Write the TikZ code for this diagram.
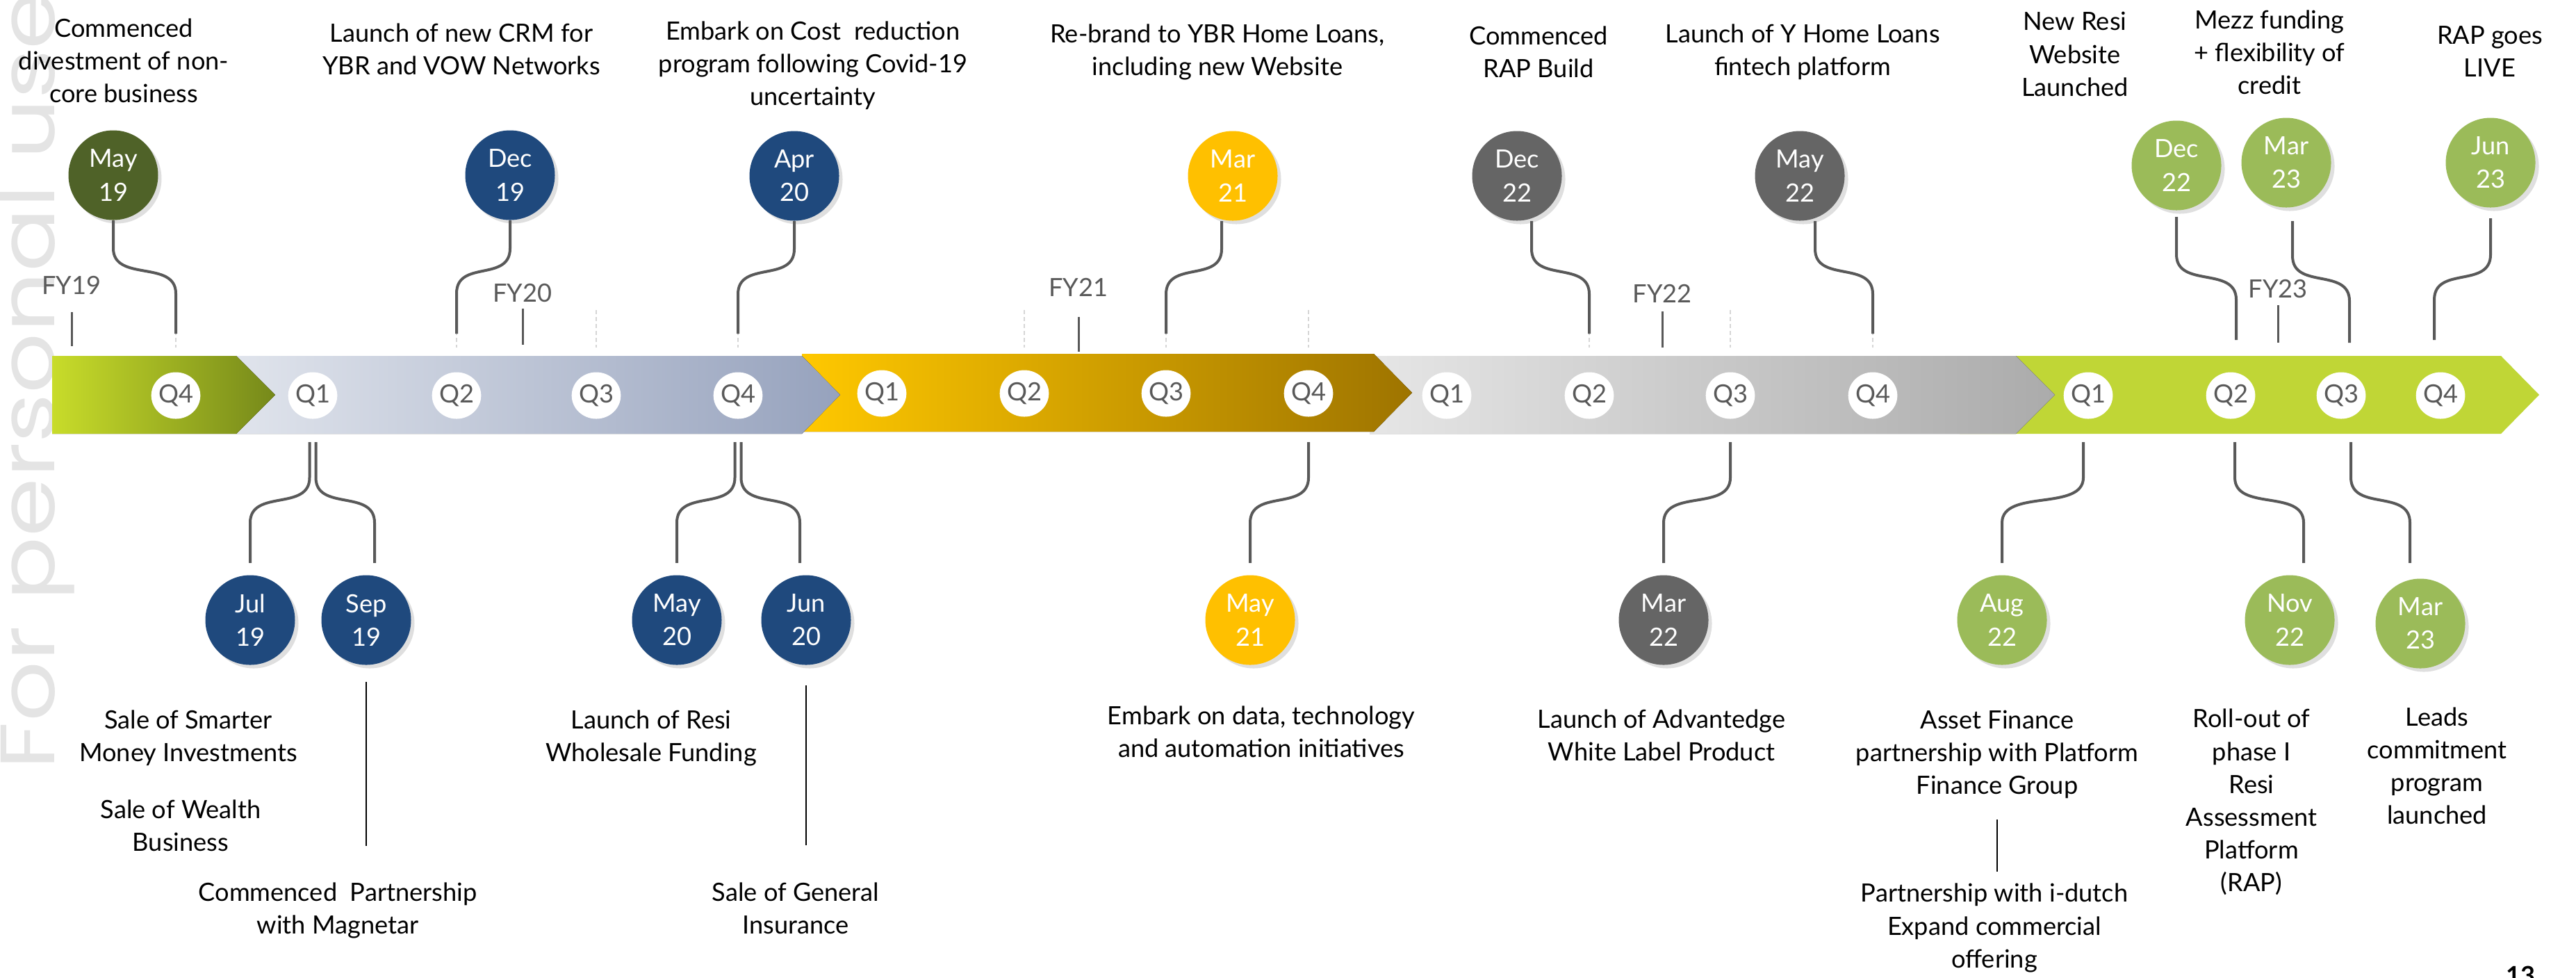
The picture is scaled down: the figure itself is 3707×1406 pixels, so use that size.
\documentclass[tikz,border=0pt]{standalone}
\usepackage{fontspec}
\setmainfont{Lato}
\newfontfamily\wmfont{Poppins}
\usetikzlibrary{calc, positioning, shapes.geometric, shadows}

\definecolor{olivebub}{HTML}{4F6228}
\definecolor{navybub}{HTML}{1F497D}
\definecolor{goldbub}{HTML}{FFC000}
\definecolor{greybub}{HTML}{656565}
\definecolor{greenbub}{HTML}{9BBB59}
\definecolor{lnk}{HTML}{595959}
\definecolor{qtext}{HTML}{595959}
\definecolor{qdash}{HTML}{D6D6D6}
\definecolor{wmark}{HTML}{E4E4E4}
\definecolor{limeA}{HTML}{C8DC2A}
\definecolor{limeB}{HTML}{76891A}
\definecolor{lilacA}{HTML}{E0E4EC}
\definecolor{lilacB}{HTML}{96A2BD}
\definecolor{goldA}{HTML}{FFC800}
\definecolor{goldB}{HTML}{9E7400}
\definecolor{silverA}{HTML}{E6E6E6}
\definecolor{silverB}{HTML}{ABABAB}
\definecolor{leaf}{HTML}{C0D636}

\begin{document}
\begin{tikzpicture}[
        x=0.1mm, y=-0.1mm,
        txt/.style={align=center, inner sep=0pt, text=black,
                    font=\fontsize{10.3pt}{13.4pt}\selectfont},
        bub/.style={circle, minimum size=12.9mm, inner sep=0pt, align=center,
                    text=white, fill=#1, font=\fontsize{10.3pt}{13.7pt}\selectfont,
                    drop shadow={shadow xshift=0.5mm, shadow yshift=-0.5mm, opacity=0.25}},
        qtr/.style={ellipse, fill=white, minimum width=6.4mm, minimum height=6.7mm,
                    inner sep=0pt, text=qtext, font=\fontsize{10.3pt}{12pt}\selectfont},
        fy/.style={inner sep=0pt, text=qtext, font=\fontsize{10.3pt}{12pt}\selectfont},
        tick/.style={draw=lnk, line width=0.3mm},
        qline/.style={draw=qdash, line width=0.2mm, dash pattern=on 0.6mm off 0.4mm},
        note/.style={draw=black, line width=0.15mm},
        conn/.style={draw=lnk, line width=0.4mm, to path={
            let \p1=(\tikztostart), \p2=(\tikztotarget) in
            -- (\x1,\y1-#1) .. controls (\x1,\y1-#1-4.9mm) and (\x2,\y1-#1-1.6mm)
            .. (\x2,\y1-#1-6.5mm) -- (\x2,\y2)}},
        conn/.default=4mm
    ]
    \useasboundingbox (0,0) rectangle (3707,1406);
    \clip (0,0) rectangle (3707,1406);
    \fill[white] (0,0) rectangle (3707,1406);

    % watermark on the left edge
    \node[anchor=base west, rotate=90, inner sep=0pt, text=wmark,
          font=\wmfont\fontsize{31.5pt}{36pt}\selectfont] (wm) at (78,1108)
          {\scalebox{1.23}[1]{For personal use}};

    % timeline band, right to left so each tip lies over the next piece
    \fill[leaf] (2820,512) -- (3599,512) -- (3654,568) -- (3599,624) -- (2820,624) -- cycle;
    \fill[left color=silverA, right color=silverB] (1971,512) -- (2901,512) -- (2957,568) -- (2901,624) -- (1971,624) -- cycle;
    \fill[left color=goldA, right color=goldB] (1154,509) -- (1977,509) -- (2032,565) -- (1977,621) -- (1154,621) -- cycle;
    \fill[left color=lilacA, right color=lilacB] (340,512) -- (1154,512) -- (1209,568) -- (1154,624) -- (340,624) -- cycle;
    \fill[left color=limeA, right color=limeB] (75,512) -- (340,512) -- (396,568) -- (340,624) -- (75,624) -- cycle;

    % quarters
    \node[qtr] (q4a) at (253,569) {Q4};
    \node[qtr] (q1b) at (450,569) {Q1};
    \node[qtr] (q2b) at (657,569) {Q2};
    \node[qtr] (q3b) at (858,569) {Q3};
    \node[qtr] (q4b) at (1062,569) {Q4};
    \node[qtr] (q1c) at (1269,566) {Q1};
    \node[qtr] (q2c) at (1474,566) {Q2};
    \node[qtr] (q3c) at (1678,566) {Q3};
    \node[qtr] (q4c) at (1883,566) {Q4};
    \node[qtr] (q1d) at (2082,569) {Q1};
    \node[qtr] (q2d) at (2287,569) {Q2};
    \node[qtr] (q3d) at (2490,569) {Q3};
    \node[qtr] (q4d) at (2695,569) {Q4};
    \node[qtr] (q1e) at (3005,569) {Q1};
    \node[qtr] (q2e) at (3210,569) {Q2};
    \node[qtr] (q3e) at (3369,569) {Q3};
    \node[qtr] (q4e) at (3512,569) {Q4};

    % faint quarter marks above the band
    \draw[qline] (q4a |- 0,446) -- (q4a |- 0,500);
    \draw[qline] (q2b |- 0,446) -- (q2b |- 0,500);
    \draw[qline] (q3b |- 0,446) -- (q3b |- 0,500);
    \draw[qline] (q4b |- 0,446) -- (q4b |- 0,500);
    \draw[qline] (q2c |- 0,446) -- (q2c |- 0,500);
    \draw[qline] (q3c |- 0,446) -- (q3c |- 0,500);
    \draw[qline] (q4c |- 0,446) -- (q4c |- 0,500);
    \draw[qline] (q2d |- 0,446) -- (q2d |- 0,500);
    \draw[qline] (q3d |- 0,446) -- (q3d |- 0,500);
    \draw[qline] (q4d |- 0,446) -- (q4d |- 0,500);

    % financial years
    \node[fy] (fy19) at (103,410) {FY19};
    \node[fy] (fy20) at (752,421) {FY20};
    \node[fy] (fy21) at (1552,413) {FY21};
    \node[fy] (fy22) at (2392,422) {FY22};
    \node[fy] (fy23) at (3278,416) {FY23};
    \draw[tick] (fy19 |- 0,449) -- (fy19 |- 0,498);
    \draw[tick] (fy20 |- 0,444) -- (fy20 |- 0,496);
    \draw[tick] (fy21 |- 0,456) -- (fy21 |- 0,506);
    \draw[tick] (fy22 |- 0,448) -- (fy22 |- 0,500);
    \draw[tick] (fy23 |- 0,439) -- (fy23 |- 0,493);

    % milestones above the band
    \node[bub=olivebub] (may19) at (163,252) {May\\19};
    \node[bub=navybub] (dec19) at (734,252) {Dec\\19};
    \node[bub=navybub] (apr20) at (1143,253) {Apr\\20};
    \node[bub=goldbub] (mar21) at (1774,253) {Mar\\21};
    \node[bub=greybub] (dec22) at (2183,253) {Dec\\22};
    \node[bub=greybub] (may22) at (2590,253) {May\\22};
    \node[bub=greenbub] (dec22g) at (3132,238) {Dec\\22};
    \node[bub=greenbub] (mar23) at (3290,234) {Mar\\23};
    \node[bub=greenbub] (jun23) at (3584,234) {Jun\\23};

    \draw[conn] (may19.south) to (q4a |- 0,480);
    \draw[conn] (dec19.south) to (q2b |- 0,480);
    \draw[conn] (apr20.south) to (q4b |- 0,480);
    \draw[conn] ([xshift=-1.6mm]mar21.south) to (q3c |- 0,480);
    \draw[conn] ([xshift=2.1mm]dec22.south) to (q2d |- 0,480);
    \draw[conn] ([xshift=2.2mm]may22.south) to (q4d |- 0,480);
    \draw[conn=6.3mm, shorten <=0.9mm] (dec22g.south) to ($(q2e |- 0,489)+(8,0)$);
    \draw[conn=6.9mm, shorten <=1.9mm] ([xshift=0.9mm]mar23.south) to ($(q3e |- 0,493)+(12,0)$);
    \draw[conn=6.7mm, shorten <=1.5mm] (jun23.south) to ($(q4e |- 0,489)+(-9,0)$);

    \node[txt] (divest) at (178,87) {Commenced\\divestment of non-\\core business};
    \node[txt] (crm) at (664,71) {Launch of new CRM for\\YBR and VOW Networks};
    \node[txt] (costcut) at (1170,94) {Embark on Cost~ reduction\\program following Covid-19\\uncertainty};
    \node[txt] (rebrand) at (1752,75) {Re-brand to YBR Home Loans,\\including new Website};
    \node[txt] (rapbuild) at (2214,75) {Commenced\\RAP Build};
    \node[txt] (yhome) at (2594,75) {Launch of Y Home Loans\\fintech platform};
    \node[txt] (resiweb) at (2986,78) {New Resi\\Website\\Launched};
    \node[txt] (mezz) at (3266,75) {Mezz funding\\+ flexibility of\\credit};
    \node[txt] (raplive) at (3583,74) {RAP goes\\LIVE};

    % milestones below the band
    \node[bub=navybub] (jul19) at (360,892) {Jul\\19};
    \node[bub=navybub] (sep19) at (527,892) {Sep\\19};
    \node[bub=navybub] (may20) at (974,892) {May\\20};
    \node[bub=navybub] (jun20) at (1160,892) {Jun\\20};
    \node[bub=goldbub] (may21) at (1799,892) {May\\21};
    \node[bub=greybub] (mar22) at (2394,892) {Mar\\22};
    \node[bub=greenbub] (aug22) at (2881,892) {Aug\\22};
    \node[bub=greenbub] (nov22) at (3295,892) {Nov\\22};
    \node[bub=greenbub] (mar23b) at (3483,897) {Mar\\23};

    \draw[conn=5.1mm, shorten >=1.7mm] ($(q1b |- 0,636)+(-4.5,0)$) to (jul19.north);
    \draw[conn=5.1mm, shorten >=1.7mm] ($(q1b |- 0,636)+(4.5,0)$) to ([xshift=1.2mm]sep19.north);
    \draw[conn=5.1mm, shorten >=1.7mm] ($(q4b |- 0,636)+(-4.5,0)$) to (may20.north);
    \draw[conn=5.1mm, shorten >=1.7mm] ($(q4b |- 0,636)+(4.5,0)$) to ([xshift=-0.9mm]jun20.north);
    \draw[conn=5.1mm, shorten >=1.7mm] (q4c |- 0,636) to (may21.north);
    \draw[conn=5.1mm, shorten >=1.7mm] (q3d |- 0,636) to (mar22.north);
    \draw[conn=5.1mm, shorten >=1.7mm] ($(q1e |- 0,636)+(-7,0)$) to (aug22.north);
    \draw[conn=5.1mm, shorten >=1.7mm] ($(q2e |- 0,636)+(6,0)$) to ([xshift=2mm]nov22.north);
    \draw[conn=5.1mm, shorten >=2.2mm] ($(q3e |- 0,636)+(14,0)$) to ([xshift=-1.5mm]mar23b.north);

    \node[txt] (smarter) at (271,1062) {Sale of Smarter\\Money Investments};
    \node[txt] (wealth) at (260,1188) {Sale of Wealth\\Business};
    \node[txt] (magnetar) at (486,1310) {Commenced~ Partnership\\with Magnetar};
    \node[txt] (wholesale) at (937,1062) {Launch of Resi\\Wholesale Funding};
    \node[txt] (geninsure) at (1145,1307) {Sale of General\\Insurance};
    \node[txt] (datatech) at (1815,1053) {Embark on data, technology\\and automation initiatives};
    \node[txt] (advantedge) at (2391,1058) {Launch of Advantedge\\White Label Product};
    \node[txt] (assetfin) at (2874,1085) {Asset Finance\\partnership with Platform\\Finance Group};
    \node[txt] (idutch) at (2870,1335) {Partnership with i-dutch\\Expand commercial\\offering};
    \node[txt] (rollout) at (3240,1154) {Roll-out of\\phase I\\Resi\\Assessment\\Platform\\(RAP)};
    \node[txt] (leads) at (3507,1102) {Leads\\commitment\\program\\launched};

    % thin links down to the second notes
    \draw[note, shorten <=2.4mm, shorten >=5.2mm] (sep19.south) -- (sep19.south |- magnetar.north);
    \draw[note, shorten <=2.9mm, shorten >=5.3mm] (jun20.south) -- (jun20.south |- geninsure.north);
    \draw[note, shorten <=3mm, shorten >=1.7mm] (assetfin.south) -- (assetfin.south |- idutch.north);

    % page number
    \node[inner sep=0pt, anchor=north, font=\fontsize{10.3pt}{12pt}\selectfont\bfseries] (pagenum) at (3627,1389) {13};
\end{tikzpicture}
\end{document}
